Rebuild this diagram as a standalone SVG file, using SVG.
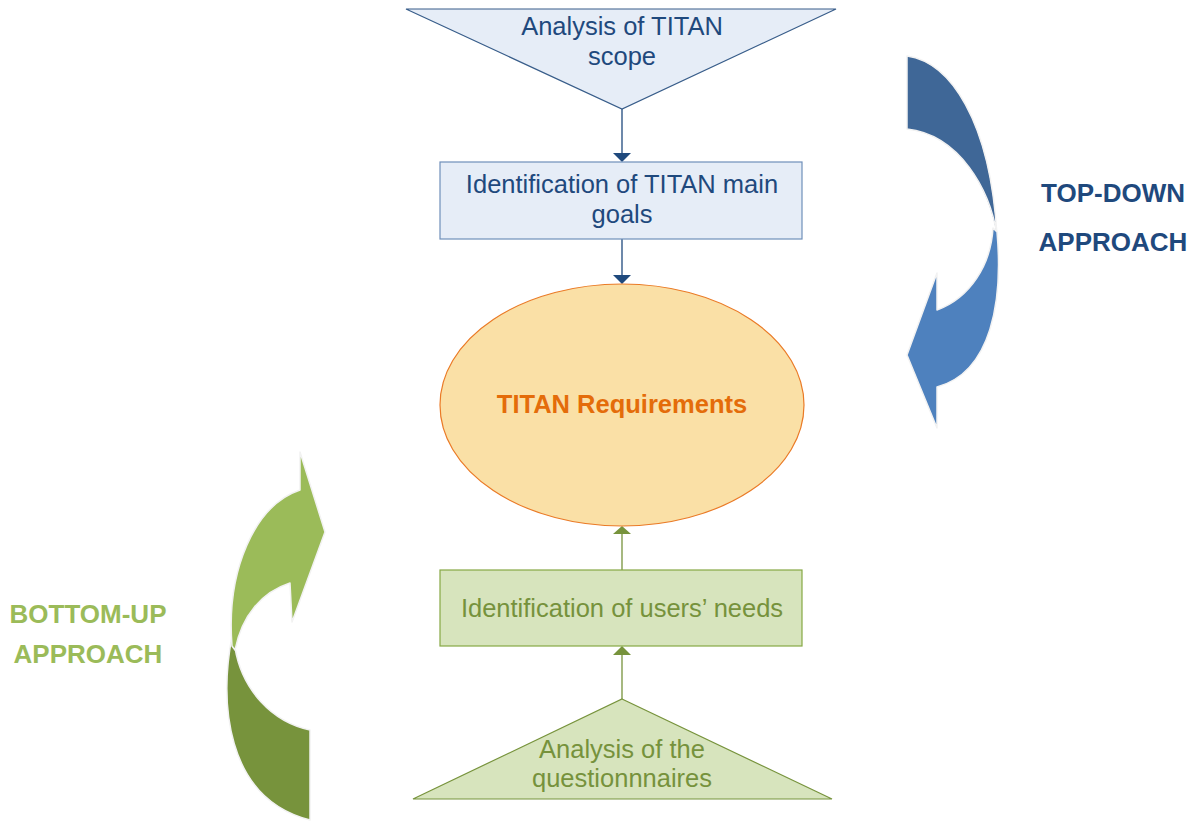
<svg xmlns="http://www.w3.org/2000/svg" width="1194" height="825" viewBox="0 0 1194 825">
<style>
  .t { font-family: "Liberation Sans", Arial, sans-serif; font-size: 25.5px; text-anchor: middle; }
  .blue { fill: #1f497d; }
  .green { fill: #76923c; }
  .bshape { fill: #e6edf7; stroke: #385d8a; stroke-width: 1.2; }
  .gshape { fill: #d7e4bd; stroke: #86a844; stroke-width: 1.2; }
  .bline { stroke: #1f497d; stroke-width: 1.3; fill: none; }
  .gline { stroke: #77933c; stroke-width: 1.3; fill: none; }
  .lbl { font-family: "Liberation Sans", Arial, sans-serif; font-weight: bold; font-size: 26px; text-anchor: middle; }
  .rib { stroke: #f2f2f2; stroke-width: 1.5; stroke-linejoin: round; }
</style>

<g id="connectors">
  <line class="bline" x1="622" y1="109" x2="622" y2="153"/>
  <polygon points="613,153 631,153 622,162" fill="#1f497d"/>
  <line class="bline" x1="622" y1="239" x2="622" y2="275"/>
  <polygon points="613,275 631,275 622,284" fill="#1f497d"/>
  <line class="gline" x1="622" y1="570" x2="622" y2="534"/>
  <polygon points="613,534 631,534 622,526" fill="#77933c"/>
  <line class="gline" x1="622" y1="699" x2="622" y2="655"/>
  <polygon points="613,655 631,655 622,646" fill="#77933c"/>
</g>

<g id="node-scope">
  <polygon class="bshape" points="406,9 836,9 622,109"/>
  <text class="t blue" x="622" y="35">Analysis of TITAN</text>
  <text class="t blue" x="622" y="65">scope</text>
</g>

<g id="node-goals">
  <rect class="bshape" x="440" y="162" width="362" height="77" style="stroke:#6f8fba"/>
  <text class="t blue" x="622" y="193">Identification of TITAN main</text>
  <text class="t blue" x="622" y="223">goals</text>
</g>

<g id="node-requirements">
  <ellipse cx="622" cy="405" rx="182" ry="121" fill="#fae0a6" stroke="#ea7a26" stroke-width="1.2"/>
  <text class="t" x="622" y="413" style="font-weight:bold;fill:#e46c0a">TITAN Requirements</text>
</g>

<g id="node-needs">
  <rect class="gshape" x="440" y="570" width="362" height="76"/>
  <text class="t green" x="622" y="617">Identification of users’ needs</text>
</g>

<g id="node-questionnaires">
  <polygon class="gshape" points="622,699 832,799 413,799" style="stroke:#77933c"/>
  <text class="t green" x="622" y="758">Analysis of the</text>
  <text class="t green" x="622" y="787">questionnnaires</text>
</g>

<g id="topdown-arrow">
  <path class="rib" fill="#3f6797" d="M907,56 C950,62 990,120 997,235 C990,190 960,135 907,129 Z"/>
  <path class="rib" fill="#4e81be" d="M997,232 C1003,300 992,372 937,387 L937,428 L907,355 L937,273 L937,310 C970,298 991,265 993,228 Z"/>
</g>

<g id="bottomup-arrow">
  <path class="rib" fill="#77933c" d="M232,636 C220,700 224,798 310,820 L310,730 C272,722 242,690 235,648 Z"/>
  <path class="rib" fill="#9bbb59" d="M232,646 C226,570 255,505 300,490 L300,452 L325,532 L292,622 L290,583 C262,592 242,615 235,650 Z"/>
</g>

<g id="labels">
  <text class="lbl" x="1113" y="202" fill="#1f497d">TOP-DOWN</text>
  <text class="lbl" x="1113" y="251" fill="#1f497d">APPROACH</text>
  <text class="lbl" x="88" y="623" fill="#9bbb59">BOTTOM-UP</text>
  <text class="lbl" x="88" y="663" fill="#9bbb59">APPROACH</text>
</g>
</svg>
